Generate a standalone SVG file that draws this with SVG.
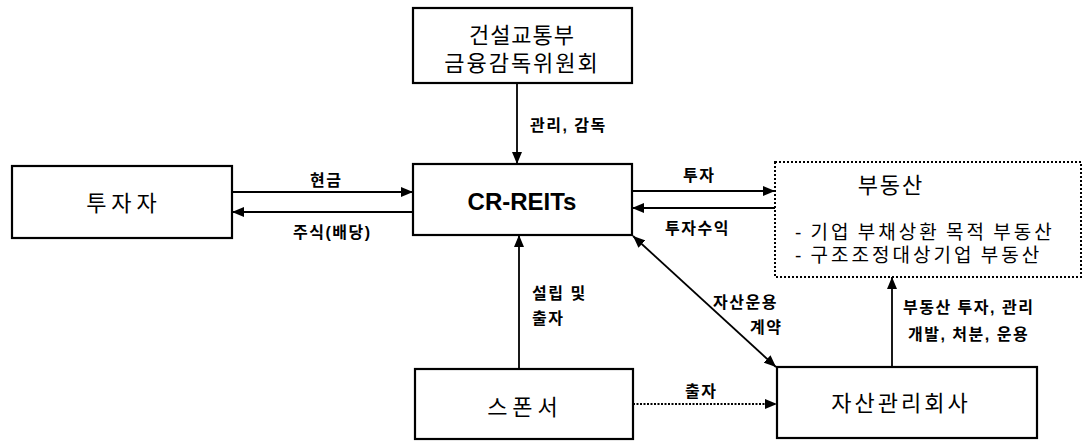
<svg xmlns="http://www.w3.org/2000/svg" width="1084" height="441" viewBox="0 0 1084 441">
<style>
.box{fill:#fff;stroke:#000;stroke-width:2.2}
.dot{fill:#fff;stroke:#000;stroke-width:2;stroke-dasharray:2 2}
.t{font-family:"Liberation Sans","Noto Sans CJK KR",sans-serif;fill:#000}
.big{font-size:22px;text-anchor:middle}
.lbl{font-size:16px;font-weight:bold;letter-spacing:1.5px}
.ln{stroke:#000;stroke-width:1.8;fill:none}
</style>
<defs>
<marker id="ah" viewBox="0 0 12 10" refX="12" refY="5" markerWidth="12" markerHeight="10" markerUnits="userSpaceOnUse" orient="auto-start-reverse">
<path d="M0,0 L12,5 L0,10 Z" fill="#000"/>
</marker>
</defs>
<rect width="1084" height="441" fill="#fff"/>
<g id="connectors">
<line class="ln" x1="517" y1="83" x2="517" y2="164" marker-end="url(#ah)"/>
<line class="ln" x1="232" y1="192" x2="413" y2="192" marker-end="url(#ah)"/>
<line class="ln" x1="413" y1="212" x2="232" y2="212" marker-end="url(#ah)"/>
<line class="ln" x1="632" y1="191" x2="775" y2="191" marker-end="url(#ah)"/>
<line class="ln" x1="775" y1="208" x2="632" y2="208" marker-end="url(#ah)"/>
<line class="ln" x1="519" y1="369" x2="519" y2="235" marker-end="url(#ah)"/>
<line class="ln" x1="633" y1="236" x2="776" y2="367" marker-start="url(#ah)" marker-end="url(#ah)"/>
<line class="ln" x1="633" y1="404" x2="777" y2="404" stroke-dasharray="2 1.5" stroke-width="1.3" marker-end="url(#ah)"/>
<line class="ln" x1="892" y1="367" x2="892" y2="277" marker-end="url(#ah)"/>
<text class="t lbl" x="530" y="131">관리, 감독</text>
<text class="t lbl" x="310" y="186">현금</text>
<text class="t lbl" x="293" y="238">주식(배당)</text>
<text class="t lbl" x="683" y="181">투자</text>
<text class="t lbl" x="665" y="234">투자수익</text>
<text class="t lbl" x="532" y="299">설립 및</text>
<text class="t lbl" x="532" y="324">출자</text>
<text class="t lbl" x="713" y="308">자산운용</text>
<text class="t lbl" x="750" y="333">계약</text>
<text class="t lbl" x="685" y="397">출자</text>
<text class="t lbl" x="903" y="313" letter-spacing="2">부동산 투자, 관리</text>
<text class="t lbl" x="908" y="340" letter-spacing="2">개발, 처분, 운용</text>
</g>
<g id="n-ministry">
<rect class="box" x="413" y="8" width="219" height="75"/>
<text class="t big" x="522" y="43" letter-spacing="1">건설교통부</text>
<text class="t big" x="522" y="71" letter-spacing="2">금융감독위원회</text>
</g>
<g id="n-investor">
<rect class="box" x="12" y="166" width="220" height="72"/>
<text class="t big" x="124" y="211" letter-spacing="5">투자자</text>
</g>
<g id="n-crreits">
<rect class="box" x="413" y="164" width="219" height="71"/>
<text class="t" x="522" y="210" font-size="24" font-weight="bold" text-anchor="middle">CR-REITs</text>
</g>
<g id="n-realestate">
<rect class="dot" x="775" y="162" width="306" height="115"/>
<text class="t big" x="891" y="193" letter-spacing="2">부동산</text>
<text class="t" x="795" y="239" font-size="19" letter-spacing="3" word-spacing="-2">- 기업 부채상환 목적 부동산</text>
<text class="t" x="795" y="262" font-size="19" letter-spacing="3" word-spacing="-2">- 구조조정대상기업 부동산</text>
</g>
<g id="n-sponsor">
<rect class="box" x="415" y="369" width="218" height="70"/>
<text class="t big" x="525" y="415" letter-spacing="5">스폰서</text>
</g>
<g id="n-amc">
<rect class="box" x="777" y="367" width="260" height="71"/>
<text class="t big" x="901" y="411" letter-spacing="3">자산관리회사</text>
</g>
</svg>
